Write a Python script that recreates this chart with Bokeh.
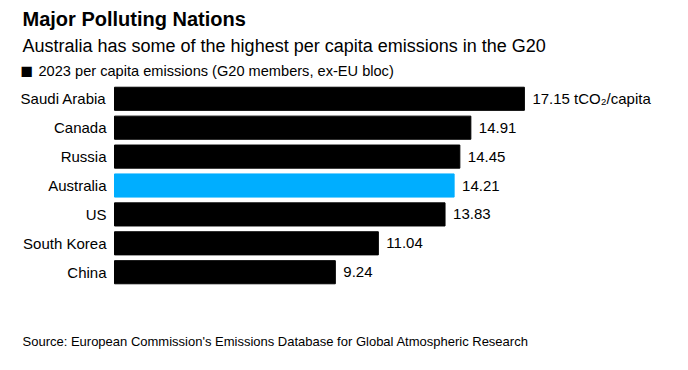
from bokeh.plotting import figure
from bokeh.models import Label, FactorRange, Range1d
from bokeh.core.properties import value
from bokeh.embed import file_html
from bokeh.resources import INLINE

countries = ["Saudi Arabia", "Canada", "Russia", "Australia", "US", "South Korea", "China"]
emissions = [17.15, 14.91, 14.45, 14.21, 13.83, 11.04, 9.24]
highlight = "Australia"
unit = " tCO\u2082/capita"

title = "Major Polluting Nations"
subtitle = "Australia has some of the highest per capita emissions in the G20"
legend_text = "2023 per capita emissions (G20 members, ex-EU bloc)"
source = "Source: European Commission's Emissions Database for Global Atmospheric Research"

colors = ["#00AEFF" if c == highlight else "#000000" for c in countries]
labels = [f"{v:.2f}" + (unit if i == 0 else "") for i, v in enumerate(emissions)]

W, H = 688, 370
PX_PER_UNIT = 23.9
LEFT_PX = 114
FONT = "Liberation Sans Narrow, Arial Narrow, Liberation Sans, Arial, sans-serif"
FONT_REG = "Liberation Sans, Arial, sans-serif"

p = figure(width=W, height=H,
           y_range=FactorRange(*reversed(countries), range_padding=2.9, range_padding_units="absolute"),
           x_range=Range1d(-LEFT_PX / PX_PER_UNIT, (W - LEFT_PX) / PX_PER_UNIT),
           x_axis_location=None, y_axis_location=None,
           output_backend="svg", toolbar_location=None,
           min_border=0, min_border_left=0, min_border_right=0, min_border_top=0, min_border_bottom=0)
p.outline_line_color = None
p.grid.visible = False
p.background_fill_color = "#ffffff"
p.border_fill_color = "#ffffff"

src = dict(y=countries, right=emissions, color=colors, label=labels, zero=[0] * len(countries))
p.hbar(y="y", right="right", left=0, height=0.8, color="color", source=src)
# value labels
p.text(x="right", y="y", text="label", source=src, x_offset=8,
       text_baseline="middle", text_align="left",
       text_font=value(FONT), text_font_size="15px", text_color="#000000")
# category labels
p.text(x="zero", y="y", text="y", source=src, x_offset=-8,
       text_baseline="middle", text_align="right",
       text_font=value(FONT), text_font_size="15px", text_color="#000000")

def lab(px, py, text, size, bold=False, font=FONT, color="#000000"):
    # px, py: position from the top-left of the chart; screen units count from the frame's bottom-left
    p.add_layout(Label(x=px, y=H - py, x_units="screen", y_units="screen", text=text,
                       text_font=font, text_font_size=size,
                       text_font_style="bold" if bold else "normal",
                       text_color=color, text_baseline="middle", text_align="left"))

lab(22, 18, title, "20px", bold=True)
lab(22, 45, subtitle, "18px", font=FONT_REG)
lab(20, 70, "\u25A0", "21px", font=FONT_REG)
lab(38, 70, legend_text, "14.6px")
lab(22, 341, source, "13px", font=FONT_REG)

open("out.html", "w").write(file_html(p, INLINE))
